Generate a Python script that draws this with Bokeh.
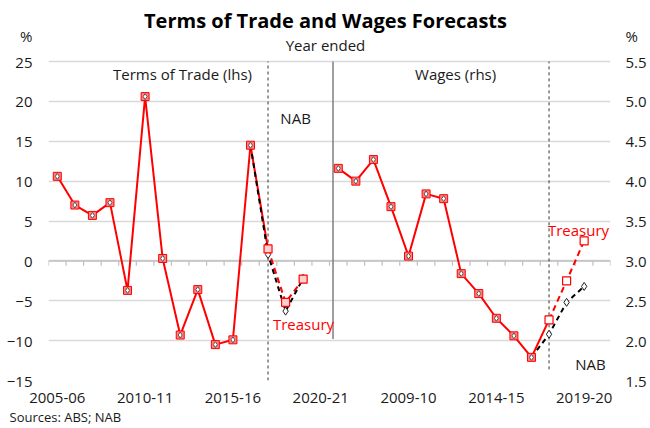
from bokeh.plotting import figure
from bokeh.models import Range1d, LinearAxis, FixedTicker, Label, Title, CustomJSTickFormatter
from bokeh.embed import file_html
from bokeh.resources import INLINE

# ---------------- data ----------------
categories = ["2005-06", "2006-07", "2007-08", "2008-09", "2009-10", "2010-11",
              "2011-12", "2012-13", "2013-14", "2014-15", "2015-16", "2016-17",
              "2017-18", "2018-19", "2019-20", "2020-21"]

# Terms of trade (lhs, %), actual 2005-06 .. 2016-17
tot_actual = [10.6, 7.0, 5.7, 7.3, -3.7, 20.6, 0.3, -9.3, -3.6, -10.5, -9.9, 14.5]
# forecasts 2016-17 .. 2019-20
tot_treasury = [14.5, 1.5, -5.2, -2.3]
tot_nab = [14.5, 0.8, -6.3, -2.2]

# Wages (rhs, %), actual 2005-06 .. 2016-17
wages_actual = [4.16, 4.0, 4.27, 3.68, 3.06, 3.84, 3.78, 2.84, 2.59, 2.28, 2.06, 1.79]
wages_treasury = [1.79, 2.26, 2.75, 3.25]
wages_nab = [1.79, 2.08, 2.48, 2.68]

lhs_ticks = [-15, -10, -5, 0, 5, 10, 15, 20, 25]
rhs_ticks = [1.5, 2.0, 2.5, 3.0, 3.5, 4.0, 4.5, 5.0, 5.5]
x_labels_left = ["2005-06", "2010-11", "2015-16", "2020-21"]
x_labels_right = ["2009-10", "2014-15", "2019-20"]
forecast_start = "2016-17"
unit_label = "%"

# ---------------- positions ----------------
n = len(categories)
fs = categories.index(forecast_start)
xl_act = list(range(len(tot_actual)))
xl_fc = list(range(fs, fs + len(tot_treasury)))
xr_act = [n + i for i in range(len(wages_actual))]
xr_fc = [n + i for i in range(fs, fs + len(wages_treasury))]

tick_pos = [categories.index(c) for c in x_labels_left] + [n + categories.index(c) for c in x_labels_right]
overrides = {}
for c in x_labels_left:
    overrides[categories.index(c)] = c
for c in x_labels_right:
    overrides[n + categories.index(c)] = c

FONT = "Open Sans"
RED = "#ff0000"
TXT = "#1a1a1a"
W, H = 650, 428

# pixel layout: plotted area 48..610 x, 61..380 y; the frame extends up to the top edge
FR_TOP, PL_TOP, PL_BOT = 0, 61, 380
lpx = (PL_BOT - PL_TOP) / (lhs_ticks[-1] - lhs_ticks[0])       # px per lhs unit
rpx = (PL_BOT - PL_TOP) / (rhs_ticks[-1] - rhs_ticks[0])       # px per rhs unit
l_top = lhs_ticks[-1] + (PL_TOP - FR_TOP) / lpx
r_top = rhs_ticks[-1] + (PL_TOP - FR_TOP) / rpx
l_at = lambda ypix: lhs_ticks[-1] + (PL_TOP - ypix) / lpx
r_at = lambda ypix: rhs_ticks[-1] + (PL_TOP - ypix) / rpx

p = figure(width=W, height=H, output_backend="svg", toolbar_location=None, title=None,
           x_range=Range1d(-0.5, 2 * n - 0.5), y_range=Range1d(lhs_ticks[0], l_top),
           min_border_left=48, min_border_right=40, min_border_top=FR_TOP,
           min_border_bottom=H - PL_BOT)
p.outline_line_color = None
p.extra_y_ranges = {"w": Range1d(rhs_ticks[0], r_top)}

l_unit = l_at(35)
r_unit = r_at(35)
p.xaxis.ticker = FixedTicker(ticks=tick_pos)
p.xaxis.major_label_overrides = overrides
p.yaxis.ticker = FixedTicker(ticks=lhs_ticks + [l_unit])
p.yaxis.major_label_overrides = {l_unit: unit_label}

ra = LinearAxis(y_range_name="w", ticker=FixedTicker(ticks=rhs_ticks + [r_unit]),
                formatter=CustomJSTickFormatter(
                    code="return tick > %f ? '%s' : tick.toFixed(1);" % (rhs_ticks[-1] + 0.01, unit_label)))
p.add_layout(ra, "right")

for ax in [p.xaxis[0], p.yaxis[0], ra]:
    ax.axis_line_color = None
    ax.major_tick_line_color = None
    ax.minor_tick_line_color = None
    ax.major_tick_out = 0
    ax.major_tick_in = 0
    ax.major_label_text_font = FONT
    ax.major_label_text_font_size = "15px"
    ax.major_label_text_color = TXT
p.xaxis.major_label_standoff = 12
p.yaxis.major_label_standoff = 16
ra.major_label_standoff = 15

p.xgrid.grid_line_color = None
p.ygrid.ticker = FixedTicker(ticks=lhs_ticks)
p.ygrid.grid_line_color = "#d9d9d9"
p.ygrid.grid_line_width = 1.5

# zero axis line with category ticks
p.segment(x0=[-0.5], y0=[0], x1=[2 * n - 0.5], y1=[0], line_color="#bfbfbf", line_width=1.5)
bounds = [k - 0.5 for k in range(2 * n + 1)]
p.segment(x0=bounds, y0=[0] * len(bounds), x1=bounds, y1=[-0.6] * len(bounds),
          line_color="#bfbfbf", line_width=1.2)

# panel divider and forecast-period markers
p.segment(x0=[n - 0.3], y0=[-9.8], x1=[n - 0.3], y1=[lhs_ticks[-1]], line_color="#7f7f7f", line_width=1.5)
p.segment(x0=[fs + 1], y0=[lhs_ticks[0]], x1=[fs + 1], y1=[lhs_ticks[-1]], line_color="#333333",
          line_width=1, line_dash="3 3")
p.segment(x0=[n + fs + 1], y0=[1.64], x1=[n + fs + 1], y1=[rhs_ticks[-1]], line_color="#333333",
          line_width=1, line_dash="3 3", y_range_name="w")

# ---- Terms of trade (lhs) ----
p.line(xl_act, tot_actual, line_color=RED, line_width=2)
p.line(xl_fc[:2], tot_treasury[:2], line_color=RED, line_width=2)
p.line(xl_fc[1:], tot_treasury[1:], line_color=RED, line_width=2, line_dash="6 4")
p.line(xl_fc, tot_nab, line_color="black", line_width=2, line_dash="5 4")
p.scatter(xl_act, tot_actual, marker="square", size=8, fill_color="#ff8080", line_color=RED, line_width=1)
p.scatter(xl_act, tot_actual, marker="diamond", size=6, fill_color="white", line_color="#555555", line_width=1)
p.scatter(xl_fc[1:], tot_nab[1:], marker="diamond", size=8, fill_color="white", line_color="#222222", line_width=1)
p.scatter(xl_fc[1:], tot_treasury[1:], marker="square", size=8, fill_color="#ffd0d0", line_color=RED, line_width=1.2)

# ---- Wages (rhs) ----
p.line(xr_act, wages_actual, line_color=RED, line_width=2, y_range_name="w")
p.line(xr_fc[:2], wages_treasury[:2], line_color=RED, line_width=2, y_range_name="w")
p.line(xr_fc[1:], wages_treasury[1:], line_color=RED, line_width=2, line_dash="6 4", y_range_name="w")
p.line(xr_fc, wages_nab, line_color="black", line_width=2, line_dash="5 4", y_range_name="w")
p.scatter(xr_act, wages_actual, marker="square", size=8, fill_color="#ff8080", line_color=RED,
          line_width=1, y_range_name="w")
p.scatter(xr_act, wages_actual, marker="diamond", size=6, fill_color="white", line_color="#555555",
          line_width=1, y_range_name="w")
p.scatter(xr_fc[1:], wages_nab[1:], marker="diamond", size=8, fill_color="white", line_color="#222222",
          line_width=1, y_range_name="w")
p.scatter(xr_fc[1:], wages_treasury[1:], marker="square", size=8, fill_color="white", line_color=RED,
          line_width=1.2, y_range_name="w")


def lab(x, y, text, size="15px", color=TXT, align="center", style="normal", rng=None):
    kw = dict(x=x, y=y, text=text, text_font=FONT, text_font_size=size, text_color=color,
              text_align=align, text_baseline="middle", text_font_style=style)
    if rng:
        kw["y_range_name"] = rng
    p.add_layout(Label(**kw))


x_mid = (2 * n - 1) / 2 + (325 - (48 + 610) / 2) / ((610 - 48) / (2 * n))
lab(x_mid, l_at(20), "Terms of Trade and Wages Forecasts", size="20px", color="black", style="bold")
lab(x_mid, l_at(44), "Year ended", size="15px")
lab(7.13, 23.4, "Terms of Trade (lhs)")
lab(22.68, 23.4, "Wages (rhs)")
lab(13.57, 17.9, "NAB")
lab(14.02, -7.9, "Treasury", color=RED)
lab(29.68, 3.39, "Treasury", color=RED, rng="w")
lab(30.36, 1.71, "NAB", rng="w")

p.add_layout(Title(text="Sources: ABS; NAB", align="left", offset=-39, standoff=0,
                   text_font=FONT, text_font_size="13px", text_font_style="normal",
                   text_color=TXT), "below")

open("out.html", "w").write(file_html(p, INLINE))
